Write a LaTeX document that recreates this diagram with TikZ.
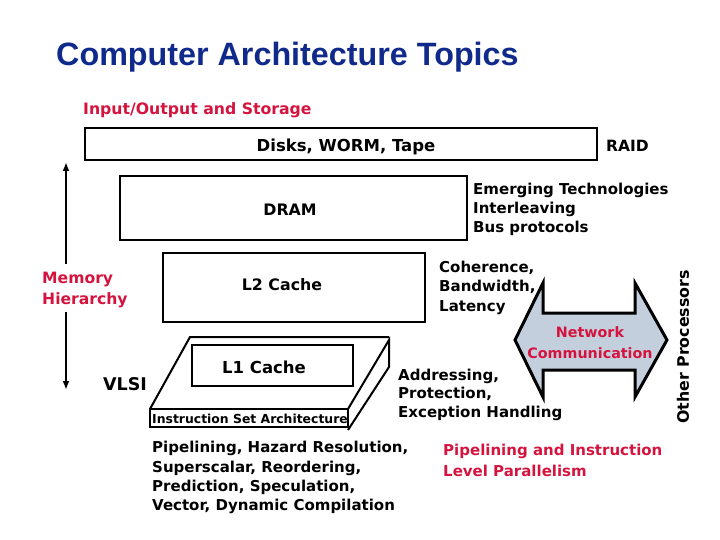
\documentclass[tikz,border=0pt]{standalone}
\usepackage{fontspec}
\setmainfont{DejaVu Sans}
\newfontfamily\titlefont{Liberation Sans}
\usetikzlibrary{arrows.meta}
\definecolor{ttlblue}{RGB}{16,42,140}
\definecolor{lblred}{RGB}{212,20,62}
\definecolor{netfill}{RGB}{196,207,221}
\tikzset{
  fsz/.style={font=\bfseries\fontsize{#1}{18}\selectfont},
  lbl/.style={anchor=base west,inner sep=0pt,fsz=15},
  clbl/.style={anchor=base,inner sep=0pt,fsz=15},
  redlbl/.style={lbl,text=lblred},
  levelbox/.style={draw,line width=2.6pt},
  slab/.style={draw,line width=2pt,line join=miter},
  vline/.style={line width=2pt},
  tip/.style={-{Latex[length=9pt,width=7pt]}}
}
\begin{document}
\begin{tikzpicture}[x=1pt,y=-1pt]
\useasboundingbox (0,0) rectangle (720,540);
% title
\node[anchor=base west,inner sep=0pt,text=ttlblue,font=\titlefont\bfseries\fontsize{32.3}{36}\selectfont] (title) at (56,66) {Computer Architecture Topics};
% I/O
\node[redlbl,fsz=15.7] (io) at (83,115) {Input/Output and Storage};
% boxes
\draw[levelbox] (85,128) rectangle (597,160);
\node[clbl,fsz=16.5] (disks) at (346,152) {Disks, WORM, Tape};
\node[lbl,fsz=15.5] (raid) at (606,152) {RAID};
\draw[levelbox] (120,176) rectangle (467,240);
\node[clbl,fsz=15.8] (dram) at (290,215) {DRAM};
\node[lbl] (em1) at (473,195) {Emerging Technologies};
\node[lbl] (em2) at (473,214) {Interleaving};
\node[lbl] (em3) at (473,233) {Bus protocols};
\draw[levelbox] (163,253) rectangle (425,322);
\node[clbl,fsz=15.8] (l2) at (282,290) {L2 Cache};
\node[lbl] (co1) at (439,272) {Coherence,};
\node[lbl] (co2) at (439,291) {Bandwidth,};
\node[lbl] (co3) at (439,311) {Latency};
% slab (ISA)
\draw[slab] (150,409) -- (190,337) -- (389,337);
\draw[slab] (348,409) -- (389,340) -- (389,367) -- (348,430);
\draw[slab] (150,409) rectangle (348,427);
\draw[levelbox,line width=2.2pt] (192,345) rectangle (353,386);
\node[clbl,fsz=16.5] (l1) at (264,373) {L1 Cache};
\node[anchor=base,inner sep=0pt,fsz=12.4] (isa) at (250,423) {Instruction Set Architecture};
% memory hierarchy arrow
\node[redlbl,fsz=15.6] (mem1) at (42,283) {Memory};
\node[redlbl,fsz=15.6] (mem2) at (42,304) {Hierarchy};
\coordinate (mtop) at (66,162);
\coordinate (mgap1) at (66,264);
\coordinate (mgap2) at (66,312);
\coordinate (mbot) at (66,390);
\draw[vline,tip] (mgap1) -- (mtop);
\draw[vline,tip] (mgap2) -- (mbot);
\node[lbl,fsz=17.5] (vlsi) at (103,390) {VLSI};
% addressing
\node[lbl] (ad1) at (398,380) {Addressing,};
\node[lbl] (ad2) at (398,398) {Protection,};
\node[lbl] (ad3) at (398,417) {Exception Handling};
% network arrow
\draw[line width=3pt,fill=netfill,line join=miter]
  (515,340) -- (543,283) -- (543,313) -- (635,313) -- (635,283) -- (667,340)
  -- (635,397) -- (635,370) -- (543,370) -- (543,397) -- cycle;
\node[anchor=base,inner sep=0pt,text=lblred,fsz=14.3] (net1) at (590,337) {Network};
\node[anchor=base,inner sep=0pt,text=lblred,fsz=14.3] (net2) at (590,358) {Communication};
\node[rotate=90,inner sep=0pt,fsz=15.8] (other) at (683,347) {Other Processors};
% bottom
\node[lbl] (p1) at (152,452) {Pipelining, Hazard Resolution,};
\node[lbl] (p2) at (152,472) {Superscalar, Reordering,};
\node[lbl] (p3) at (152,491) {Prediction, Speculation,};
\node[lbl] (p4) at (152,510) {Vector, Dynamic Compilation};
\node[redlbl] (ilp1) at (443,455) {Pipelining and Instruction};
\node[redlbl] (ilp2) at (443,476) {Level Parallelism};
\end{tikzpicture}
\end{document}
